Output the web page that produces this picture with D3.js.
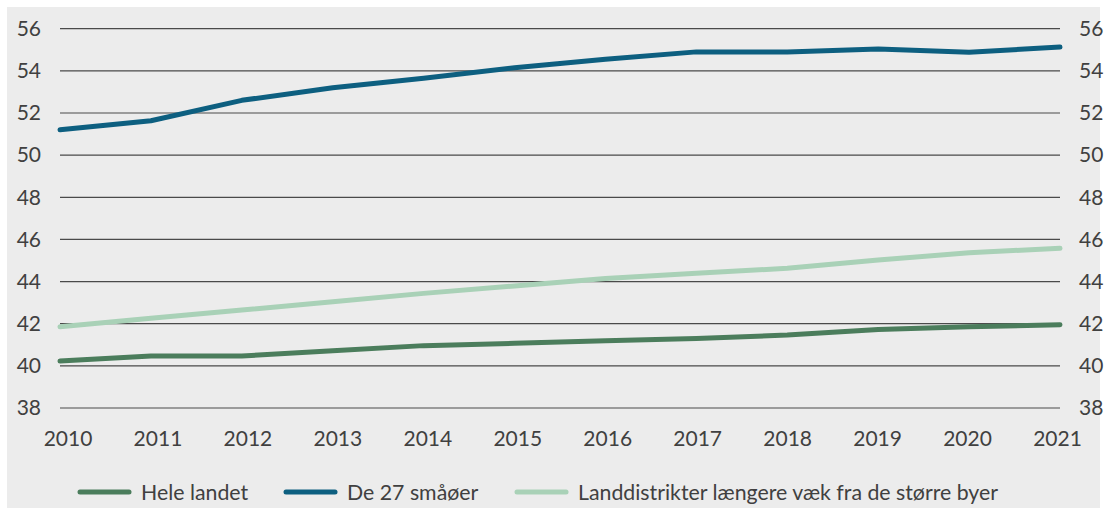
<!doctype html>
<html>
<head>
<meta charset="utf-8" />
<script src="https://d3js.org/d3.v7.min.js"></script>
<style>
  body { margin: 0; background: #fff; }
  text { font-family: Lato, "Open Sans", sans-serif; fill: #404040; }
</style>
</head>
<body>
<div id="chart"></div>
<script type="text/javascript">

var years = [2010, 2011, 2012, 2013, 2014, 2015, 2016, 2017, 2018, 2019, 2020, 2021];
var heleLandet = [40.23, 40.47, 40.47, 40.72, 40.96, 41.07, 41.19, 41.3, 41.46, 41.73, 41.86, 41.95];
var smaaoeer = [51.2, 51.63, 52.6, 53.2, 53.65, 54.15, 54.55, 54.9, 54.9, 55.04, 54.88, 55.13];
var landdistrikter = [41.86, 42.26, 42.65, 43.04, 43.44, 43.79, 44.15, 44.39, 44.63, 45.02, 45.37, 45.58];
var yTicks = [38, 40, 42, 44, 46, 48, 50, 52, 54, 56];
var seriesNames = ["Hele landet", "De 27 småøer", "Landdistrikter længere væk fra de større byer"];

var series = [
  {name: seriesNames[0], values: heleLandet, color: "#4b7d5c"},
  {name: seriesNames[1], values: smaaoeer, color: "#0d5f80"},
  {name: seriesNames[2], values: landdistrikter, color: "#a9d1b7"}
];

var width = 1106, height = 508;
var svg = d3.select("#chart").append("svg").attr("width", width).attr("height", height);

svg.append("rect").attr("x", 7).attr("y", 7).attr("width", 1093).attr("height", height - 7)
  .attr("fill", "#ececec");

var x = d3.scalePoint().domain(years).range([60, 1060]);
// year labels sit a little inside the line ends
var xLabel = d3.scalePoint().domain(years).range([67.5, 1057]);
var y = d3.scaleLinear().domain([38, 56]).range([408, 28.7]);

// gridlines
svg.append("g").selectAll("line").data(yTicks).enter().append("line")
  .attr("x1", 60).attr("x2", 1060)
  .attr("y1", d => y(d)).attr("y2", d => y(d))
  .attr("stroke", "#4a4a4a").attr("stroke-width", 1.2);

// left + right axis labels
var leftAxis = d3.axisLeft(y).tickValues(yTicks).tickSize(0).tickPadding(19);
var gl = svg.append("g").attr("transform", "translate(60,0)").call(leftAxis);
var rightAxis = d3.axisRight(y).tickValues(yTicks).tickSize(0).tickPadding(19);
var gr = svg.append("g").attr("transform", "translate(1060,0)").call(rightAxis);
var bottomAxis = d3.axisBottom(xLabel).tickSize(0).tickPadding(0);
var gb = svg.append("g").attr("transform", "translate(0,431.5)").call(bottomAxis);
[gl, gr, gb].forEach(function(g) {
  g.select(".domain").remove();
  g.selectAll("text").style("font-family", "Lato, sans-serif").style("font-size", "21px").attr("fill", "#404040");
});

var line = d3.line().x((d, i) => x(years[i])).y(d => y(d));

svg.append("g").selectAll("path").data(series).enter().append("path")
  .attr("d", d => line(d.values))
  .attr("fill", "none")
  .attr("stroke", d => d.color)
  .attr("stroke-width", 5)
  .attr("stroke-linecap", "round")
  .attr("stroke-linejoin", "round");

// legend
var legendX = [80, 286, 517];
var legend = svg.append("g").selectAll("g").data(series).enter().append("g")
  .attr("transform", (d, i) => "translate(" + legendX[i] + ",492)");
legend.append("line").attr("x1", 0).attr("x2", 49).attr("y1", 0).attr("y2", 0)
  .attr("stroke", d => d.color).attr("stroke-width", 5).attr("stroke-linecap", "round");
legend.append("text").attr("x", 61).attr("y", 7.5).style("font-size", "21.3px").text(d => d.name);

</script>
</body>
</html>
